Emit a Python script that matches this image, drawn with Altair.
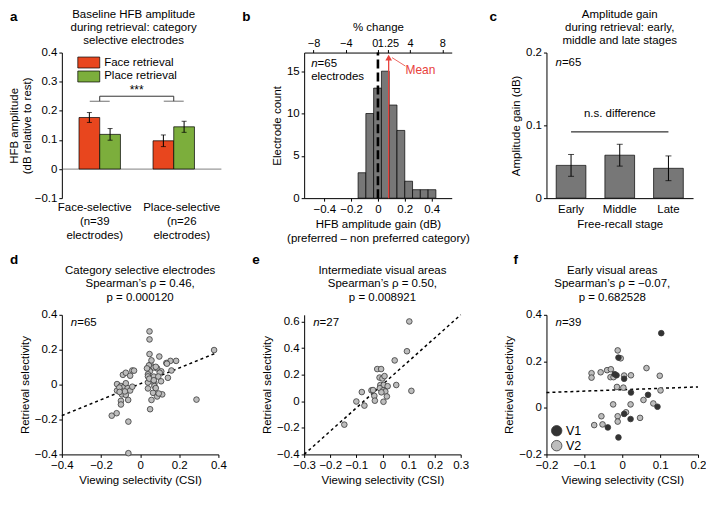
import altair as alt
import pandas as pd

FONT = "Liberation Sans"
RED = "#e8461e"
GREEN = "#7cae3c"
BAR_GRAY = "#777777"
MEAN_RED = "#e8413c"
PT_LIGHT = "#bdbdbd"
PT_DARK = "#333333"
PT_EDGE = "#3a3a3a"

# ---------------- panel a data ----------------
a_title = ["Baseline HFB amplitude", "during retrieval: category", "selective electrodes"]
a_groups = ["Face-selective", "Place-selective"]
a_group_n = ["n=39", "n=26"]
a_label_dx = [-5, 8]
a_conditions = ["Face retrieval", "Place retrieval"]
a_bar_group = ["Face-selective", "Face-selective", "Place-selective", "Place-selective"]
a_bar_cond = ["Face retrieval", "Place retrieval", "Face retrieval", "Place retrieval"]
a_mean = [0.177, 0.119, 0.097, 0.145]
a_sem = [0.017, 0.020, 0.020, 0.019]
a_bracket_low = 0.233
a_bracket_high = 0.25
a_star_y = 0.272
a_y_ticks = [-0.1, 0, 0.1, 0.2, 0.3, 0.4]

# ---------------- panel b data ----------------
b_edges = [-0.148, -0.090, -0.032, 0.026, 0.084, 0.142, 0.200, 0.258, 0.316, 0.374, 0.432]
b_counts = [3, 10, 13, 15, 11, 8, 2, 1, 1, 1]
b_mean = 0.08
b_x_ticks = [-0.4, -0.2, 0, 0.2, 0.4]
b_y_ticks = [0, 5, 10, 15]
b_pct_ticks = [-8, -4, 0, 1.25, 4, 8]
b_pct_domain = [-9.17, 9.17]
b_db_domain = [-0.55, 0.55]
b_y_max = 17.2

# ---------------- panel c data ----------------
c_title = ["Amplitude gain", "during retrieval: early,", "middle and late stages"]
c_stages = ["Early", "Middle", "Late"]
c_mean = [0.045, 0.059, 0.041]
c_sem = [0.015, 0.015, 0.017]
c_ns_y = 0.091
c_ns_text_y = 0.116

# ---------------- panel d data ----------------
d_title = ["Category selective electrodes", "Spearman\u2019s \u03c1 = 0.46,", "p = 0.000120"]
d_x = [0.048, 0.048, 0.048, 0.098, 0.378,
       0.155, 0.184, 0.134, 0.137, 0.053,
       0.045, 0.070, 0.087, 0.160, 0.108,
       0.100, 0.050, 0.040, 0.040, 0.070,
       0.093, 0.142, 0.107, 0.073, 0.040,
       0.073, 0.040, 0.066, 0.087, 0.113,
       0.058, 0.051, 0.288, -0.088, -0.073,
       -0.051, -0.040, -0.031, -0.118, -0.098,
       -0.081, -0.064, -0.118, -0.093, -0.073,
       -0.051, -0.040, -0.061, -0.098, -0.098,
       -0.145, -0.120, -0.060, -0.060, -0.078,
       -0.106, -0.073, 0.080, 0.095, 0.035,
       0.047, 0.070, 0.058, 0.080, -0.105]
d_y = [0.305, 0.259, 0.175, 0.161, 0.198,
       0.136, 0.136, 0.124, 0.120, 0.115,
       0.110, 0.098, 0.093, 0.081, 0.076,
       0.068, 0.076, 0.059, 0.047, 0.046,
       0.046, 0.039, 0.019, 0.008, 0.012,
       -0.008, -0.022, -0.047, -0.068, -0.056,
       -0.088, -0.141, -0.086, 0.056, 0.068,
       0.051, 0.081, 0.080, 0.003, -0.008,
       -0.012, -0.020, -0.034, -0.056, -0.059,
       -0.034, -0.012, -0.088, -0.093, -0.114,
       -0.178, -0.164, -0.212, -0.393, -0.039,
       -0.017, 0.008, -0.020, -0.051, 0.093,
       0.034, 0.025, 0.139, 0.102, -0.042]
d_fit_x = [-0.4, 0.388]
d_fit_y = [-0.178, 0.181]

# ---------------- panel e data ----------------
e_title = ["Intermediate visual areas", "Spearman\u2019s \u03c1 = 0.50,", "p = 0.008921"]
e_x = [0.103, 0.094, 0.047, 0.111, 0.053,
       -0.020, -0.005, -0.011, 0.000, 0.008,
       -0.008, 0.005, 0.020, -0.010, 0.003,
       0.011, -0.004, 0.017, 0.004, -0.031,
       -0.029, -0.042, -0.036, -0.079, -0.100,
       -0.069, -0.146]
e_y = [0.600, 0.376, 0.307, 0.078, 0.122,
       0.242, 0.242, 0.178, 0.171, 0.189,
       0.122, 0.122, 0.113, 0.098, 0.082,
       0.073, 0.067, 0.036, -0.004, 0.040,
       0.004, 0.082, 0.084, 0.069, -0.002,
       -0.033, -0.176]
e_fit_x = [-0.3, 0.3]
e_fit_y = [-0.4, 0.65]

# ---------------- panel f data ----------------
f_title = ["Early visual areas", "Spearman\u2019s \u03c1 = \u22120.07,", "p = 0.682528"]
f_v1_x = [0.103, -0.010, -0.020, -0.015, 0.005, 0.023, 0.068, 0.093, 0.005, 0.022, -0.038, -0.010]
f_v1_y = [0.321, 0.216, 0.145, 0.140, 0.125, 0.066, 0.056, 0.005, -0.026, -0.048, -0.084, -0.127]
f_v2_x = [-0.012, -0.004, -0.057, -0.081, -0.081, -0.040, -0.030, -0.031, -0.023,
          0.005, 0.023, 0.064, 0.099, -0.014, 0.003, 0.101, -0.024, 0.022,
          0.056, 0.082, -0.055, -0.012, 0.010, 0.047, -0.052, -0.012, -0.074]
f_v2_y = [0.247, 0.213, 0.153, 0.149, 0.130, 0.162, 0.166, 0.132, 0.132,
          0.139, 0.140, 0.171, 0.138, 0.090, 0.087, 0.075, 0.015, 0.015,
          0.034, 0.019, -0.036, -0.036, -0.019, -0.043, -0.071, -0.059, -0.074]
f_areas = ["V1", "V2"]
f_fit_x = [-0.2, 0.2]
f_fit_y = [0.066, 0.090]

n_values = {"b": 65, "c": 65, "d": 65, "e": 27, "f": 39}

TOP_H = 146
BOT_H = 140

# plain number labels with a true minus sign, independent of tick density
NUM_LABEL = "replace(toString(datum.value), '-', '\u2212')"


# ---------------- helpers ----------------
def ax(**kw):
    kw.setdefault("labelOverlap", False)
    kw.setdefault("labelFlush", False)
    kw.setdefault("labelBound", False)
    if "values" in kw:
        kw.setdefault("tickCount", 50)
        kw.setdefault("labelExpr", NUM_LABEL)
    return alt.Axis(**kw)


def one_row():
    return pd.DataFrame({"k": [0]})


def letter(ch, x, y):
    return alt.Chart(pd.DataFrame({"t": [ch]})).mark_text(
        align="left", baseline="top", fontSize=13.5, fontWeight="bold", font=FONT, color="black"
    ).encode(text="t:N", x=alt.value(x), y=alt.value(y))


def title_text(lines, x, y):
    return alt.Chart(one_row()).mark_text(
        align="center", baseline="top", fontSize=11.5, lineHeight=13.4, font=FONT, color="black"
    ).encode(text=alt.value(lines), x=alt.value(x), y=alt.value(y))


def n_label(n, x, y, size=11.5):
    df = pd.DataFrame({"n": ["n"], "rest": ["=" + str(n)]})
    p1 = alt.Chart(df).mark_text(align="left", baseline="middle", fontSize=size,
                                 fontStyle="italic", font=FONT, color="black").encode(
        text="n:N", x=alt.value(x), y=alt.value(y))
    p2 = alt.Chart(df).mark_text(align="left", baseline="middle", fontSize=size,
                                 font=FONT, color="black").encode(
        text="rest:N", x=alt.value(x + 6.5), y=alt.value(y))
    return [p1, p2]


# ---------------- panel a ----------------
a_df = pd.DataFrame({"group": a_bar_group, "cond": a_bar_cond, "mean": a_mean, "sem": a_sem})
a_df["lo"] = a_df["mean"] - a_df["sem"]
a_df["hi"] = a_df["mean"] + a_df["sem"]

A_W = 144
xa = alt.X("group:N", sort=a_groups,
           scale=alt.Scale(paddingInner=0.44, paddingOuter=0.19, align=0.61), axis=None)
xa_plain = alt.X("group:N", sort=a_groups)
xoff = alt.XOffset("cond:N", sort=a_conditions, scale=alt.Scale(paddingInner=0, paddingOuter=0))

a_zero = alt.Chart(pd.DataFrame({"y": [0]})).mark_rule(color="#9a9a9a", strokeWidth=1.3).encode(
    y="y:Q", x=alt.value(1), x2=alt.value(160))

a_bars = alt.Chart(a_df).mark_bar(stroke="black", strokeWidth=0.7).encode(
    x=xa, xOffset=xoff,
    y=alt.Y("mean:Q", scale=alt.Scale(domain=[-0.1, 0.4], nice=False),
            axis=ax(values=a_y_ticks,
                    title=["HFB amplitude", "(dB relative to rest)"], titlePadding=2,
                    titleLineHeight=12.5)),
    color=alt.Color("cond:N", scale=alt.Scale(domain=a_conditions, range=[RED, GREEN]),
                    legend=alt.Legend(title=None, orient="none", legendX=21, legendY=4,
                                      symbolType="M-2,-1H2V1H-2Z", symbolSize=121,
                                      symbolStrokeColor="black", symbolStrokeWidth=0.7,
                                      symbolOpacity=1, labelFontSize=11.5, rowPadding=0,
                                      padding=0, labelOffset=9.5, symbolOffset=0)))
a_err = alt.Chart(a_df).mark_rule(color="black", strokeWidth=1).encode(
    x=xa_plain, xOffset=alt.XOffset("cond:N", sort=a_conditions), y="lo:Q", y2="hi:Q")
a_cap_lo = alt.Chart(a_df).mark_tick(orient="horizontal", color="black", size=5, thickness=1).encode(
    x=xa_plain, xOffset=alt.XOffset("cond:N", sort=a_conditions), y="lo:Q")
a_cap_hi = alt.Chart(a_df).mark_tick(orient="horizontal", color="black", size=5, thickness=1).encode(
    x=xa_plain, xOffset=alt.XOffset("cond:N", sort=a_conditions), y="hi:Q")

a_br_short = alt.Chart(pd.DataFrame({"group": a_groups, "y": [a_bracket_low] * 2})).mark_tick(
    orient="horizontal", color="#333333", size=20, thickness=1).encode(x=xa_plain, y="y:Q")
a_br_line = alt.Chart(pd.DataFrame({
    "group": [a_groups[0], a_groups[0], a_groups[1], a_groups[1]],
    "y": [a_bracket_low, a_bracket_high, a_bracket_high, a_bracket_low],
    "o": [0, 1, 2, 3]})).mark_line(color="#333333", strokeWidth=1).encode(
    x=xa_plain, y="y:Q", order="o:O")
a_star = alt.Chart(pd.DataFrame({"group": [a_groups[0]], "y": [a_star_y], "t": ["***"]})).mark_text(
    dx=37, fontSize=12, font=FONT, color="black").encode(x=xa_plain, y="y:Q", text="t:N")

a_xlabels = []
for i, g in enumerate(a_groups):
    a_xlabels.append(
        alt.Chart(pd.DataFrame({"group": [g]})).mark_text(
            dx=a_label_dx[i], baseline="top", align="center", fontSize=11.5, lineHeight=14,
            font=FONT, color="black").encode(
            x=xa_plain, y=alt.value(TOP_H + 4),
            text=alt.value([g, "(" + a_group_n[i], "electrodes)"])))

panel_a = alt.layer(a_zero, a_bars, a_err, a_cap_lo, a_cap_hi, a_br_short, a_br_line, a_star,
                    *a_xlabels, title_text(a_title, A_W / 2, -44), letter("a", -52, -43)).properties(
    width=A_W, height=TOP_H)

# ---------------- panel b ----------------
b_df = pd.DataFrame({"lo": b_edges[:-1], "hi": b_edges[1:], "count": b_counts,
                     "base": [0] * len(b_counts)})
b_bars = alt.Chart(b_df).mark_bar(fill=BAR_GRAY, stroke="black", strokeWidth=0.7).encode(
    x=alt.X("lo:Q", scale=alt.Scale(domain=b_db_domain, nice=False, zero=False),
            axis=ax(values=b_x_ticks, titleLineHeight=14,
                    title=["HFB amplitude gain (dB)", "(preferred \u2013 non preferred category)"])),
    x2="hi:Q",
    y=alt.Y("count:Q", scale=alt.Scale(domain=[0, b_y_max], nice=False),
            axis=ax(values=b_y_ticks, title="Electrode count")),
    y2="base:Q")
b_zero = alt.Chart(pd.DataFrame({"x": [0], "y0": [0], "y1": [b_y_max]})).mark_rule(
    color="black", strokeWidth=2.6, strokeDash=[9, 4]).encode(x="x:Q", y="y0:Q", y2="y1:Q")
b_mean_line = alt.Chart(pd.DataFrame({"x": [b_mean], "y0": [0], "y1": [16.4]})).mark_rule(
    color=MEAN_RED, strokeWidth=1.3).encode(x="x:Q", y="y0:Q", y2="y1:Q")
b_arrow = alt.Chart(pd.DataFrame({"x": [b_mean], "y": [16.6]})).mark_point(
    shape="triangle-up", filled=True, color=MEAN_RED, size=45, opacity=1).encode(x="x:Q", y="y:Q")
b_conn = alt.Chart(pd.DataFrame({"x": [0.105], "y": [16.6], "x2": [0.205], "y2": [15.6]})).mark_rule(
    color=MEAN_RED, strokeWidth=0.8).encode(x="x:Q", y="y:Q", x2="x2:Q", y2="y2:Q")
b_mean_txt = alt.Chart(pd.DataFrame({"x": [0.205], "y": [15.1], "t": ["Mean"]})).mark_text(
    align="left", color=MEAN_RED, fontSize=12, font=FONT).encode(x="x:Q", y="y:Q", text="t:N")
b_elec = alt.Chart(pd.DataFrame({"t": ["electrodes"]})).mark_text(
    align="left", baseline="middle", fontSize=11.5, font=FONT, color="black").encode(
    text="t:N", x=alt.value(7), y=alt.value(25))
b_main = alt.layer(b_bars, b_zero, b_mean_line, b_arrow, b_conn, b_mean_txt, b_elec,
                   *n_label(n_values["b"], 7, 11), letter("b", -62, -43))
b_top = alt.Chart(pd.DataFrame({"pct": b_pct_ticks})).mark_point(opacity=0).encode(
    x=alt.X("pct:Q", scale=alt.Scale(domain=b_pct_domain, nice=False, zero=False),
            axis=ax(orient="top", values=b_pct_ticks, title="% change",
                    labelPadding=1, titlePadding=5, labelFontSize=11,
                    labelAlign={"condition": {"test": "datum.value == 0", "value": "right"},
                                "value": "center"})))
panel_b = alt.layer(b_main, b_top).resolve_scale(x="independent").properties(width=148, height=TOP_H)

# ---------------- panel c ----------------
C_W = 147
c_df = pd.DataFrame({"stage": c_stages, "mean": c_mean, "sem": c_sem})
c_df["lo"] = c_df["mean"] - c_df["sem"]
c_df["hi"] = c_df["mean"] + c_df["sem"]
xc = alt.X("stage:N", sort=c_stages, scale=alt.Scale(paddingInner=0.39, paddingOuter=0.2),
           axis=ax(title="Free-recall stage", ticks=False, labelAngle=0, labelPadding=5))
xc_plain = alt.X("stage:N", sort=c_stages)
c_bars = alt.Chart(c_df).mark_bar(fill=BAR_GRAY, stroke="black", strokeWidth=0.7).encode(
    x=xc, y=alt.Y("mean:Q", scale=alt.Scale(domain=[0, 0.2], nice=False),
                  axis=ax(values=[0, 0.1, 0.2], title="Amplitude gain (dB)")))
c_err = alt.Chart(c_df).mark_rule(color="black", strokeWidth=1).encode(x=xc_plain, y="lo:Q", y2="hi:Q")
c_cap_lo = alt.Chart(c_df).mark_tick(orient="horizontal", color="black", size=6, thickness=1).encode(
    x=xc_plain, y="lo:Q")
c_cap_hi = alt.Chart(c_df).mark_tick(orient="horizontal", color="black", size=6, thickness=1).encode(
    x=xc_plain, y="hi:Q")
c_ns = alt.Chart(pd.DataFrame({"stage": [c_stages[0], c_stages[-1]], "y": [c_ns_y, c_ns_y]})).mark_line(
    color="black", strokeWidth=1).encode(x=xc_plain, y="y:Q")
c_ns_txt = alt.Chart(pd.DataFrame({"stage": [c_stages[1]], "y": [c_ns_text_y], "t": ["n.s. difference"]})).mark_text(
    fontSize=11.5, font=FONT, color="black").encode(x=xc_plain, y="y:Q", text="t:N")
panel_c = alt.layer(c_bars, c_err, c_cap_lo, c_cap_hi, c_ns, c_ns_txt,
                    *n_label(n_values["c"], 9, 10), title_text(c_title, C_W / 2, -44),
                    letter("c", -57, -43)).properties(width=C_W, height=TOP_H)


# ---------------- scatter panels ----------------
def scatter(df, fit_x, fit_y, xdom, ydom, xt, yt, w, title, letter_ch, lx, n, color=None, title_dx=0):
    xs = alt.X("x:Q", scale=alt.Scale(domain=xdom, nice=False, zero=False),
               axis=ax(values=xt, title="Viewing selectivity (CSI)"))
    ys = alt.Y("y:Q", scale=alt.Scale(domain=ydom, nice=False, zero=False),
               axis=ax(values=yt, title="Retrieval selectivity"))
    enc = dict(x=xs, y=ys)
    if color is not None:
        enc["color"] = color
        pts = alt.Chart(df).mark_circle(size=32, stroke=PT_EDGE, strokeWidth=0.8, opacity=1).encode(**enc)
    else:
        pts = alt.Chart(df).mark_circle(size=32, color=PT_LIGHT, stroke=PT_EDGE, strokeWidth=0.8,
                                        opacity=1).encode(**enc)
    fit = alt.Chart(pd.DataFrame({"x": fit_x, "y": fit_y})).mark_line(
        color="black", strokeWidth=1.5, strokeDash=[3, 3]).encode(x="x:Q", y="y:Q")
    return alt.layer(fit, pts, *n_label(n, 9, 8), title_text(title, w / 2 + title_dx, -50),
                     letter(letter_ch, lx, -62)).properties(width=w, height=BOT_H)


d_df = pd.DataFrame({"x": d_x, "y": d_y})
panel_d = scatter(d_df, d_fit_x, d_fit_y, [-0.4, 0.4], [-0.4, 0.4],
                  [-0.4, -0.2, 0, 0.2, 0.4], [-0.4, -0.2, 0, 0.2, 0.4], 157,
                  d_title, "d", -52, n_values["d"])

e_df = pd.DataFrame({"x": e_x, "y": e_y})
panel_e = scatter(e_df, e_fit_x, e_fit_y, [-0.3, 0.3], [-0.4, 0.65],
                  [-0.3, -0.2, -0.1, 0, 0.1, 0.2, 0.3], [-0.4, -0.2, 0, 0.2, 0.4, 0.6], 157,
                  e_title, "e", -52, n_values["e"])

f_df = pd.DataFrame({"x": f_v2_x + f_v1_x, "y": f_v2_y + f_v1_y,
                     "area": ["V2"] * len(f_v2_x) + ["V1"] * len(f_v1_x)})
f_color = alt.Color("area:N", scale=alt.Scale(domain=f_areas, range=[PT_DARK, PT_LIGHT]),
                    legend=alt.Legend(title=None, orient="none", legendX=4, legendY=BOT_H - 30,
                                      symbolType="circle", symbolSize=110, symbolStrokeColor=PT_EDGE,
                                      symbolStrokeWidth=0.8, symbolOpacity=1, labelFontSize=12.5,
                                      rowPadding=0, padding=0, labelOffset=3))
panel_f = scatter(f_df, f_fit_x, f_fit_y, [-0.2, 0.2], [-0.2, 0.4],
                  [-0.2, -0.1, 0, 0.1, 0.2], [-0.2, 0, 0.2, 0.4], 152,
                  f_title, "f", -33, n_values["f"], color=f_color, title_dx=-10)

chart = alt.concat(panel_a, panel_b, panel_c, panel_d, panel_e, panel_f, columns=3,
                   spacing={"row": 117, "column": 86}, bounds="flush").resolve_scale(
    color="independent").resolve_legend(color="independent").properties(
    padding=0
).configure_axis(
    labelFont=FONT, titleFont=FONT, labelFontSize=11.5, titleFontSize=11.5,
    labelColor="black", titleColor="black", domainColor="black", tickColor="black",
    tickSize=3, grid=False, titleFontWeight="normal", domainWidth=1
).configure_view(stroke=None).configure_legend(labelFont=FONT, labelColor="black")

chart.save("out.html", embed_options={"renderer": "svg", "actions": False})
